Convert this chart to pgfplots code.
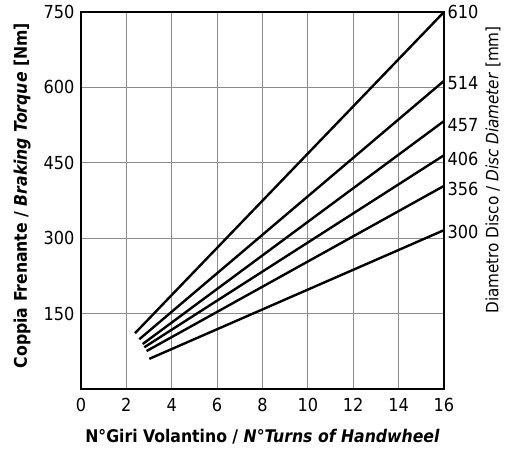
\documentclass[border=0pt]{standalone}
\usepackage{fontspec}
\setmainfont{DejaVu Sans Condensed}
\usepackage{pgfplots}
\pgfplotsset{compat=1.18}
\begin{document}
\begin{tikzpicture}
\begin{axis}[
  scale only axis,
  width=363bp, height=377bp,
  xmin=0, xmax=16, ymin=0, ymax=750,
  xtick={0,2,...,16},
  ytick={150,300,450,600,750},
  major tick length=0pt,
  grid=major,
  grid style={draw=black!45, line width=1.2bp},
  axis line style={line width=1.6bp, black},
  /pgf/number format/assume math mode=true,
  tick label style={font=\fontsize{18}{20}\selectfont},
  xticklabel style={yshift=-6bp},
  yticklabel style={xshift=-3bp},
  clip=false,
  dl/.style={black, solid, line width=2.4bp, mark=none},
]
\addplot[dl] coordinates {(2.38,111) (16,750)};
\addplot[dl] coordinates {(2.57,99) (16,613)};
\addplot[dl] coordinates {(2.72,89.5) (16,533)};
\addplot[dl] coordinates {(2.79,83) (16,465)};
\addplot[dl] coordinates {(2.89,75.5) (16,404)};
\addplot[dl] coordinates {(3.01,60) (16,316)};
\node[anchor=west, font=\fontsize{18}{20}\selectfont] at (axis cs:16,750) {610};
\node[anchor=west, font=\fontsize{18}{20}\selectfont] at (axis cs:16,608) {514};
\node[anchor=west, font=\fontsize{18}{20}\selectfont] at (axis cs:16,525) {457};
\node[anchor=west, font=\fontsize{18}{20}\selectfont] at (axis cs:16,458) {406};
\node[anchor=west, font=\fontsize{18}{20}\selectfont] at (axis cs:16,398) {356};
\node[anchor=west, font=\fontsize{18}{20}\selectfont] at (axis cs:16,313) {300};
\node[rotate=90, font=\fontsize{17}{20}\selectfont] at (rel axis cs:1.135,0.581) {Diametro Disco / \textit{Disc Diameter} [mm]};
\node[rotate=90, font=\fontsize{17.5}{20}\selectfont\bfseries] at (rel axis cs:-0.1625,0.513) {Coppia Frenante / \textit{Braking Torque} [Nm]};
\node[font=\fontsize{17.5}{20}\selectfont\bfseries] at (rel axis cs:0.5,-0.127) {N°Giri Volantino / \textit{N°Turns of Handwheel}};
\coordinate (ll) at (rel axis cs:0,0);
\coordinate (ur) at (rel axis cs:1,1);
\end{axis}
\pgfresetboundingbox
\useasboundingbox ([shift={(-81bp,-62bp)}]ll) rectangle ([shift={(71bp,12bp)}]ur);
\end{tikzpicture}
\end{document}
